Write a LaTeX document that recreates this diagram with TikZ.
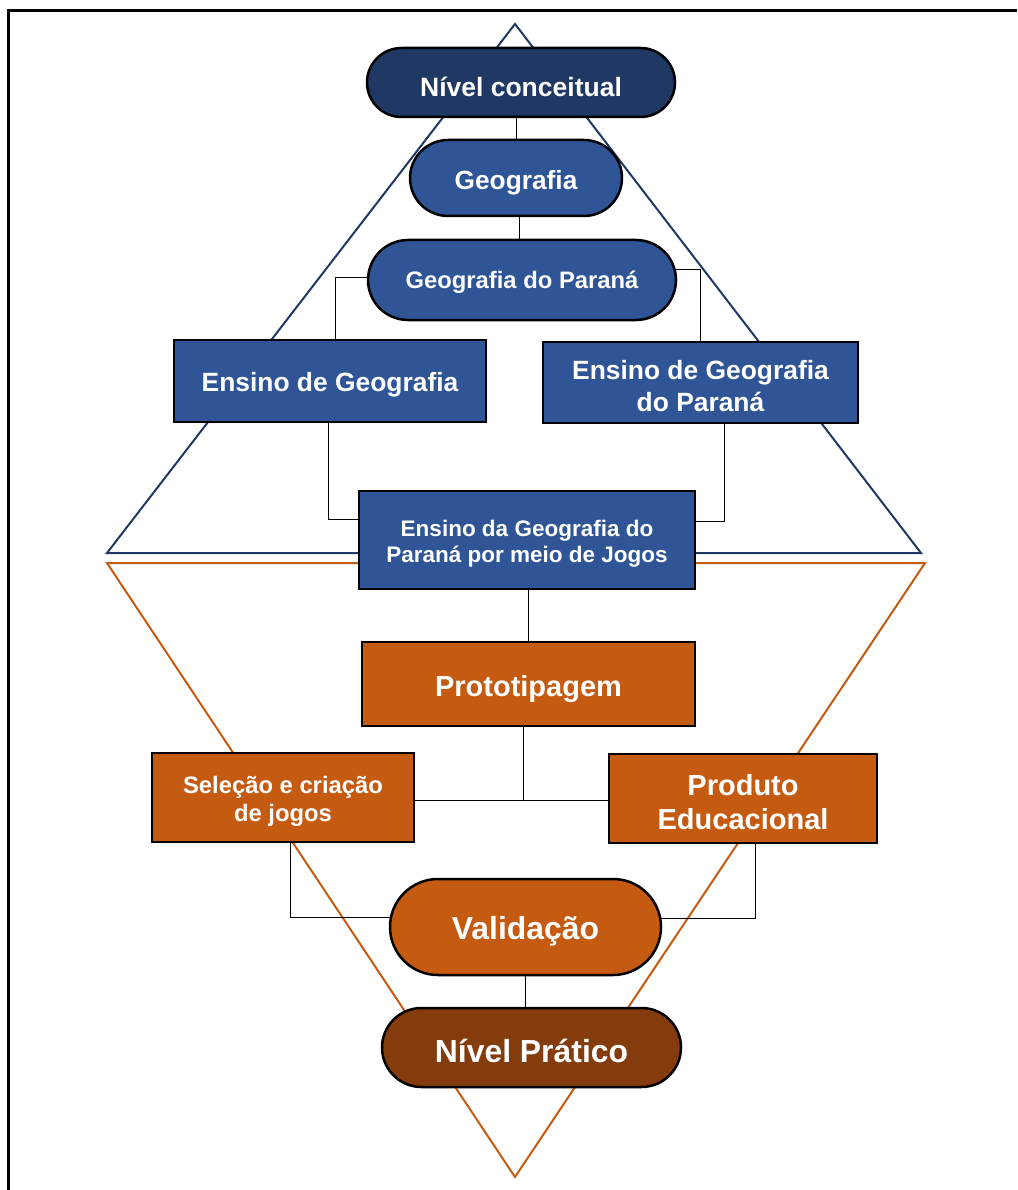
\documentclass[tikz,border=0pt]{standalone}
\usepackage{fontspec}
\setmainfont{Liberation Sans}
\definecolor{navy}{HTML}{203864}
\definecolor{blue1}{HTML}{2F5597}
\definecolor{orange1}{HTML}{C55A11}
\definecolor{brown1}{HTML}{843C0C}
\tikzset{
  base/.style={draw=black, line width=2.5pt, inner sep=0pt, align=center, text=white, font=\bfseries},
  pill/.style={base, rounded corners=#1},
  conn/.style={draw=black, line width=1pt},
}
\newcommand{\fs}[2]{\fontsize{#1}{#2}\selectfont}
\begin{document}
\begin{tikzpicture}[x=1pt,y=-1pt]
\useasboundingbox (0,0) rectangle (1017,1190);
% frame
\draw[line width=2.5pt, black] (8.5,1190) -- (8.5,10.5) -- (1017,10.5);
% triangles
\draw[navy, line width=2pt, line join=miter] (515,24) -- (921,553) -- (107,553) -- cycle;
\draw[orange1, line width=2pt, line join=miter] (107,563) -- (925,563) -- (515,1177) -- cycle;
% nodes
\node[pill=34.5pt, fill=navy, minimum width=308pt, minimum height=69pt, text height=27.4pt, font=\bfseries\fs{26.5}{30}] (nc) at (521,82.5) {Nível conceitual};
\node[pill=38pt, fill=blue1, minimum width=212pt, minimum height=76pt, text height=29.3pt, font=\bfseries\fs{26.3}{30}] (geo) at (516,178) {Geografia};
\node[pill=40pt, fill=blue1, minimum width=308pt, minimum height=80pt, text height=21.4pt, font=\bfseries\fs{23.8}{28}] (gp) at (522,280) {Geografia do Paraná};
\node[base, fill=blue1, minimum width=312pt, minimum height=82pt, text height=27.4pt, font=\bfseries\fs{26.4}{32}] (eg) at (330,381) {Ensino de Geografia};
\node[base, fill=blue1, minimum width=315pt, minimum height=81pt, text height=57.4pt, font=\bfseries\fs{26.4}{32}] (egp) at (700.5,382.5) {Ensino de Geografia\\do Paraná};
\node[base, fill=blue1, minimum width=336pt, minimum height=98pt, text height=50pt, font=\bfseries\fs{22.5}{26.5}] (jogos) at (527,540) {Ensino da Geografia do\\Paraná por meio de Jogos};
\node[base, fill=orange1, minimum width=333pt, minimum height=84pt, text height=31.3pt, font=\bfseries\fs{29}{34}] (proto) at (528.5,684) {Prototipagem};
\node[base, fill=orange1, minimum width=262pt, minimum height=89pt, text height=53.4pt, font=\bfseries\fs{23.8}{28}] (sel) at (283,797.5) {Seleção e criação\\de jogos};
\node[base, fill=orange1, minimum width=268pt, minimum height=89pt, text height=61.3pt, font=\bfseries\fs{29}{34}] (prod) at (743,798.5) {Produto\\Educacional};
\node[pill=48pt, fill=orange1, minimum width=271pt, minimum height=96pt, text height=31.4pt, font=\bfseries\fs{31.9}{36}] (val) at (525.5,927) {Validação};
\node[pill=39.5pt, fill=brown1, minimum width=299pt, minimum height=79pt, text height=29.4pt, font=\bfseries\fs{31.9}{36}] (np) at (531.5,1047.5) {Nível Prático};
\coordinate (mid) at (523,800);
% connectors
\draw[conn] (geo.north) -- (geo.north |- nc.south);
\draw[conn] ([xshift=3pt]geo.south) -- ([xshift=3pt]geo.south |- gp.north);
\draw[conn] ([yshift=3pt]gp.west) -| ([xshift=5pt]eg.north);
\draw[conn] ([yshift=11pt,xshift=-1.5pt]gp.east) -| (egp.north);
\draw[conn] ([xshift=-2pt]eg.south) |- ([yshift=21pt]jogos.west);
\draw[conn] ([xshift=23.5pt]egp.south) |- ([yshift=19pt]jogos.east);
\draw[conn] ([xshift=1pt]jogos.south) -- ([xshift=1pt]jogos.south |- proto.north);
\draw[conn] ([xshift=-5.5pt]proto.south) -- (mid);
\draw[conn] (sel.east |- mid) -- (prod.west |- mid);
\draw[conn] ([xshift=7pt]sel.south) |- ([yshift=10pt,xshift=1pt]val.west);
\draw[conn] ([xshift=12pt]prod.south) |- ([yshift=9pt,xshift=-1pt]val.east);
\draw[conn] (val.south) -- (val.south |- np.north);
\end{tikzpicture}
\end{document}
